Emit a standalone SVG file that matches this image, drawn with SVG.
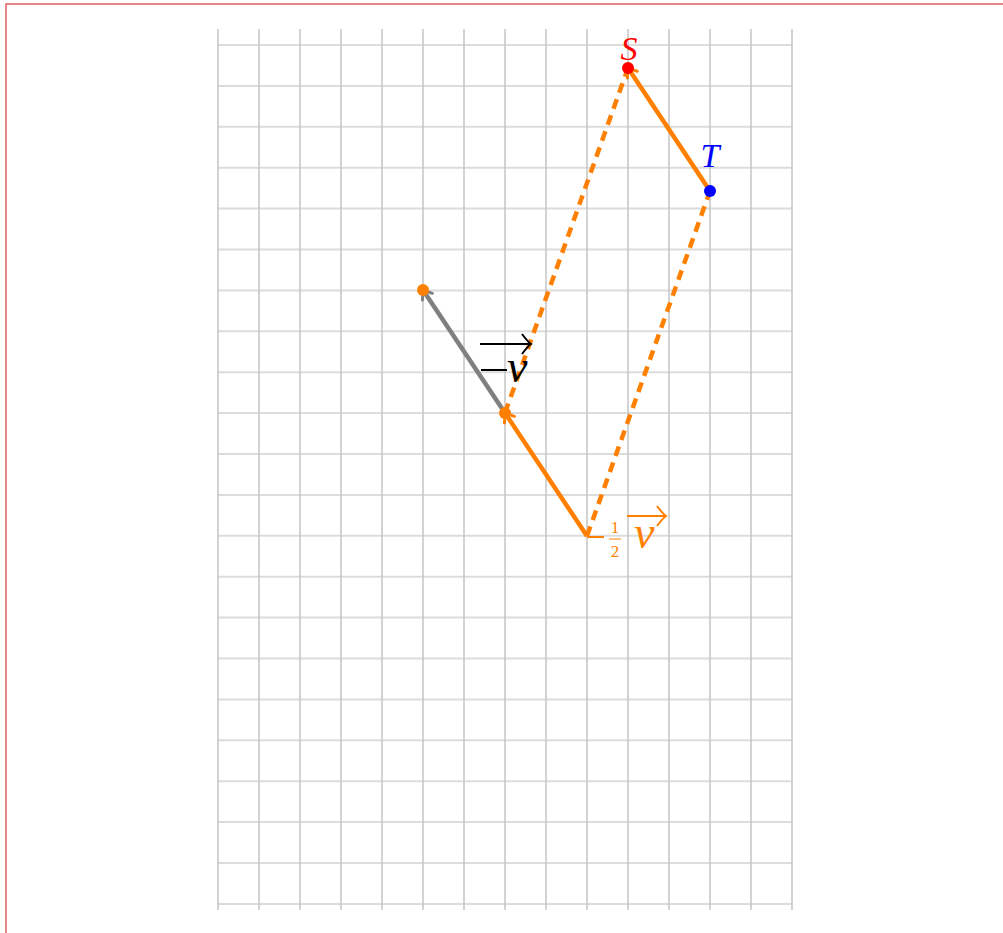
<svg xmlns="http://www.w3.org/2000/svg" width="1003" height="933" viewBox="0 0 1003 933">
<defs>
<style>
.vg{stroke:#c4c4c4;stroke-width:1.5}
.hg{stroke:#dcdcdc;stroke-width:2}
.or{stroke:#ff8000;stroke-width:4.5;fill:none}
.dash{stroke:#ff8000;stroke-width:4.5;fill:none;stroke-dasharray:10 7}
.gr{stroke:#808080;stroke-width:4.5;fill:none}
.lbl{font-family:"Liberation Serif","DejaVu Serif",serif;font-style:italic}
.up{font-family:"Liberation Serif","DejaVu Serif",serif;font-style:normal}
</style>
<marker id="ao" viewBox="-10 -8 12 16" markerWidth="12" markerHeight="16" refX="0" refY="0" orient="auto" markerUnits="userSpaceOnUse">
<path d="M-8,-6 Q-2,-1.5 0,0 Q-2,1.5 -8,6" fill="none" stroke="#ff8000" stroke-width="3" stroke-linecap="round"/>
</marker>
<marker id="ag" viewBox="-10 -8 12 16" markerWidth="12" markerHeight="16" refX="0" refY="0" orient="auto" markerUnits="userSpaceOnUse">
<path d="M-8,-6 Q-2,-1.5 0,0 Q-2,1.5 -8,6" fill="none" stroke="#808080" stroke-width="3" stroke-linecap="round"/>
</marker>
</defs>
<rect x="6" y="4" width="1100" height="1100" fill="#fff" stroke="#e06060" stroke-width="1.5"/>
<g id="grid">
<g class="hg">
<line x1="218" y1="45" x2="792" y2="45"/><line x1="218" y1="85.9" x2="792" y2="85.9"/><line x1="218" y1="126.8" x2="792" y2="126.8"/><line x1="218" y1="167.7" x2="792" y2="167.7"/><line x1="218" y1="208.6" x2="792" y2="208.6"/><line x1="218" y1="249.5" x2="792" y2="249.5"/><line x1="218" y1="290.4" x2="792" y2="290.4"/><line x1="218" y1="331.3" x2="792" y2="331.3"/><line x1="218" y1="372.2" x2="792" y2="372.2"/><line x1="218" y1="413.1" x2="792" y2="413.1"/><line x1="218" y1="454" x2="792" y2="454"/><line x1="218" y1="494.9" x2="792" y2="494.9"/><line x1="218" y1="535.8" x2="792" y2="535.8"/><line x1="218" y1="576.7" x2="792" y2="576.7"/><line x1="218" y1="617.6" x2="792" y2="617.6"/><line x1="218" y1="658.5" x2="792" y2="658.5"/><line x1="218" y1="699.4" x2="792" y2="699.4"/><line x1="218" y1="740.3" x2="792" y2="740.3"/><line x1="218" y1="781.2" x2="792" y2="781.2"/><line x1="218" y1="822.1" x2="792" y2="822.1"/><line x1="218" y1="863" x2="792" y2="863"/><line x1="218" y1="903.9" x2="792" y2="903.9"/>
</g>
<g class="vg">
<line x1="218" y1="29" x2="218" y2="910"/><line x1="259" y1="29" x2="259" y2="910"/><line x1="300" y1="29" x2="300" y2="910"/><line x1="341" y1="29" x2="341" y2="910"/><line x1="382" y1="29" x2="382" y2="910"/><line x1="423" y1="29" x2="423" y2="910"/><line x1="464" y1="29" x2="464" y2="910"/><line x1="505" y1="29" x2="505" y2="910"/><line x1="546" y1="29" x2="546" y2="910"/><line x1="587" y1="29" x2="587" y2="910"/><line x1="628" y1="29" x2="628" y2="910"/><line x1="669" y1="29" x2="669" y2="910"/><line x1="710" y1="29" x2="710" y2="910"/><line x1="751" y1="29" x2="751" y2="910"/><line x1="792" y1="29" x2="792" y2="910"/>
</g>
</g>
<g id="connectors">
<line class="dash" x1="505" y1="413" x2="628" y2="68"/>
<line class="dash" x1="587" y1="536" x2="710" y2="191"/>
<line class="gr" x1="505" y1="413" x2="423" y2="290" marker-end="url(#ag)"/>
<line class="or" x1="587" y1="536" x2="505" y2="413" marker-end="url(#ao)"/>
<line class="or" x1="710" y1="191" x2="628" y2="68" marker-end="url(#ao)"/>
</g>
<g id="node-S">
<circle cx="628" cy="68" r="6" fill="#ff0000"/>
<text class="lbl" x="629" y="60" font-size="34" fill="#ff0000" text-anchor="middle">S</text>
</g>
<g id="node-T">
<circle cx="710" cy="191" r="6" fill="#0000ff"/>
<text class="lbl" x="710" y="167" font-size="34" fill="#0000ff" text-anchor="middle">T</text>
</g>
<g id="node-A">
<circle cx="423" cy="290" r="6" fill="#ff8000"/>
</g>
<g id="node-B">
<circle cx="505" cy="413" r="6" fill="#ff8000"/>
</g>
<g id="label-v">
<line x1="480" y1="344" x2="530" y2="344" stroke="#000" stroke-width="2"/>
<path d="M522,334 Q528,342 531,344 Q528,346 522,354" fill="none" stroke="#000" stroke-width="2"/>
<line x1="481" y1="370" x2="507" y2="370" stroke="#000" stroke-width="2"/>
<text class="lbl" x="507" y="382" font-size="46" fill="#000">v</text>
</g>
<g id="label-half-v" fill="#ff8000">
<line x1="587" y1="537" x2="604" y2="537" stroke="#ff8000" stroke-width="2"/>
<text class="up" x="615" y="533" font-size="17" text-anchor="middle">1</text>
<line x1="609" y1="539" x2="621" y2="539" stroke="#ff8000" stroke-width="1"/>
<text class="up" x="615" y="557" font-size="17" text-anchor="middle">2</text>
<line x1="627" y1="516" x2="665" y2="516" stroke="#ff8000" stroke-width="2"/>
<path d="M657,506 Q663,514 666,516 Q663,518 657,526" fill="none" stroke="#ff8000" stroke-width="2"/>
<text class="lbl" x="634" y="548" font-size="46">v</text>
</g>
</svg>
